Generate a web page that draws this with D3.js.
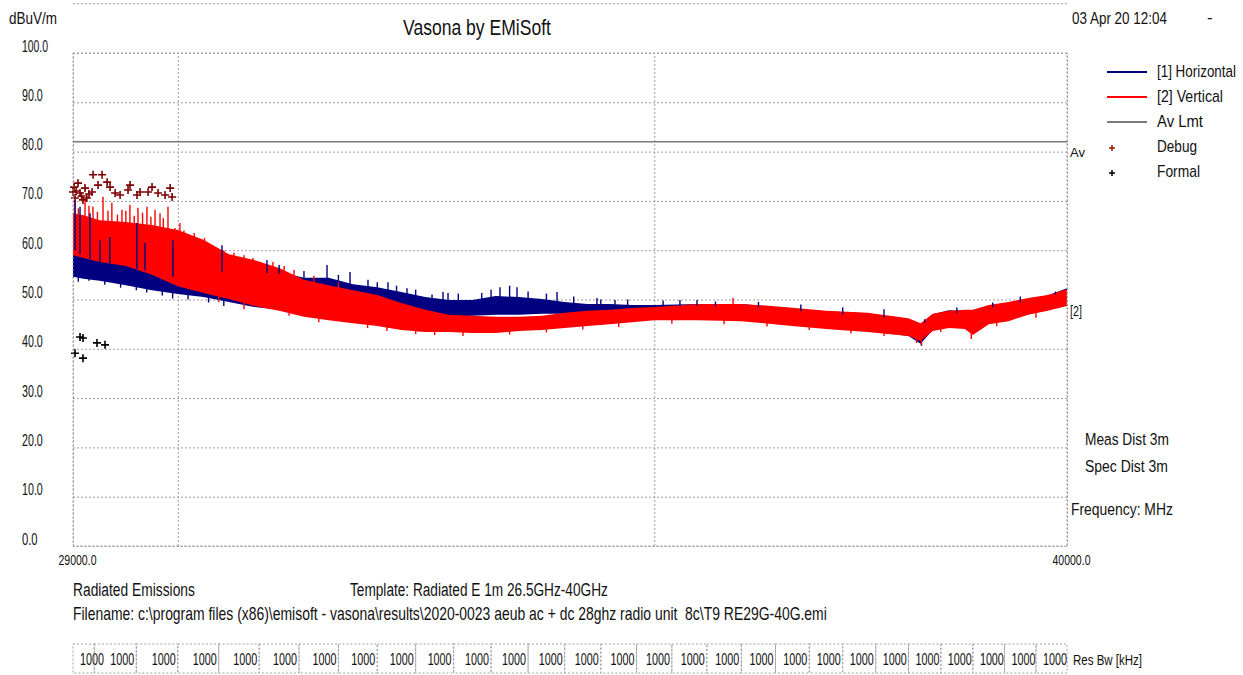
<!DOCTYPE html>
<html>
<head>
<meta charset="utf-8">
<script src="https://cdn.jsdelivr.net/npm/d3@7"></script>
<style>
body { margin: 0; background: #fff; }
text { font-family: "Liberation Sans", Arial, sans-serif; fill: #111; white-space: pre; }
</style>
</head>
<body>
<div id="chart-area"></div>
<script>
// ENVELOPE OF THE TRACES (MHz, dBuV/m)
const freqGrid = [29000, 29100, 29250, 29500, 29750, 30000, 30250, 30500, 30750, 31000, 31250, 31500, 31750,
    32000, 32250, 32500, 32750, 33000, 33250, 33500, 33750, 34000, 34250, 34500, 34750,
    35000, 35500, 36000, 36500, 37000, 37500, 38000, 38150, 38300, 38500, 38700, 38800,
    39000, 39250, 39500, 39750, 40000]
const vertTop = [67.5, 67.1, 66.1, 65.7, 65.1, 64.1, 62.1, 59.2, 58.0, 56.4, 54.0, 52.9, 51.9,
    50.9, 49.3, 47.9, 46.9, 46.7, 46.5, 46.5, 46.7, 47.3, 47.7, 47.9, 48.3,
    48.5, 49.1, 49.1, 48.5, 47.7, 47.3, 46.2, 45.2, 47.1, 47.7, 47.9, 47.9,
    48.9, 49.5, 50.3, 50.9, 52.1]
const vertBottom = [59.0, 58.4, 57.6, 56.8, 55.0, 52.7, 51.3, 50.1, 48.7, 47.7, 46.5, 45.8, 45.2,
    44.6, 43.8, 43.4, 43.4, 43.2, 43.2, 43.6, 43.8, 44.2, 44.6, 45.0, 45.4,
    45.8, 45.8, 45.6, 44.8, 44.0, 43.4, 42.6, 41.6, 43.6, 44.2, 44.0, 42.8,
    45.0, 45.6, 46.9, 47.7, 48.7]
const horzTop = [60.6, 59.0, 58.0, 57.0, 56.0, 54.8, 55.0, 56.4, 56.0, 55.6, 54.4, 54.4, 53.1,
    52.5, 51.5, 50.5, 49.9, 49.9, 50.7, 50.5, 50.1, 49.5, 49.1, 49.1, 48.9,
    48.9, 49.1, 49.1, 48.3, 47.6, 47.2, 46.0, 45.0, 47.0, 47.8, 47.6, 47.7,
    48.7, 49.4, 50.1, 50.8, 52.3]
const horzBottom = [54.6, 54.2, 53.8, 52.9, 51.9, 51.1, 50.5, 49.5, 48.5, 47.9, 47.3, 46.7, 46.2,
    46.2, 46.2, 46.2, 46.5, 46.7, 46.9, 46.9, 47.1, 47.1, 47.3, 47.3, 47.1,
    46.7, 46.2, 45.8, 45.0, 44.2, 43.6, 42.6, 41.0, 43.8, 44.4, 44.2, 43.0,
    45.2, 45.8, 47.0, 47.8, 48.9]

// PEAKS ABOVE THE BANDS
const vertSpikeFreq = [29019, 29050, 29113, 29150, 29188, 29230, 29283, 29330, 29367, 29420, 29463, 29500, 29539,
    29580, 29616, 29660, 29702, 29740, 29780, 29828, 29860, 29905, 29972, 30021, 30060, 30119, 30160, 30216,
    30260, 30314, 30360, 30450, 30550, 30650, 30739, 30820, 30938, 31050, 31150, 31350, 31600, 35903]
const vertSpikeLevel = [70.0, 68.5, 70.2, 69.0, 68.8, 67.8, 70.8, 68.0, 69.6, 67.2, 68.2, 68.0, 69.2,
    67.0, 68.6, 67.6, 68.8, 66.8, 68.2, 67.5, 66.5, 68.8, 64.5, 65.5, 64.0, 62.7, 63.5, 62.0,
    62.5, 61.0, 60.5, 60.0, 59.5, 59.0, 58.4, 57.5, 57.6, 56.8, 56.0, 54.8, 53.5, 50.3]
const horzSpikeFreq = [29019, 29066, 29160, 29254, 29348, 29606, 29683, 29953, 30432, 30878, 31000, 31250, 31484,
    31600, 31719, 31904, 32000, 32111, 32200, 32309, 32400, 32572, 32688, 32741, 32850, 33100, 33200, 33296,
    33400, 33480, 33600, 33800, 33916, 34100, 34357, 34400, 34558, 34700, 35100, 35292, 35487, 35700, 36200,
    36700, 37200, 37700, 38200, 38600, 39050, 39400, 39850]
const horzSpikeLevel = [70.2, 68.8, 67.5, 62.0, 62.7, 65.5, 61.5, 62.0, 61.0, 58.0, 57.0, 55.8, 57.0,
    55.0, 55.6, 54.0, 53.5, 53.5, 52.8, 52.3, 52.0, 51.0, 51.5, 51.3, 51.2, 51.3, 52.0, 52.5,
    52.8, 52.5, 51.6, 51.2, 51.5, 50.6, 50.3, 50.0, 49.9, 50.0, 49.8, 49.9, 49.9, 49.6, 49.5,
    49.0, 48.4, 48.0, 46.0, 48.4, 49.4, 50.6, 51.6]

// DIPS BELOW THE BANDS
const vertDipFreq = [30400, 30650, 31100, 31400, 31900, 32100, 32400, 32600, 32900, 33400, 33800, 34200, 34600,
    35200, 35800, 36300, 36800, 37300, 37700, 38100, 38160, 38400, 38780, 39100, 39600]
const vertDipLevel = [49.5, 48.0, 46.7, 45.4, 44.2, 43.6, 43.0, 42.8, 42.6, 42.9, 43.3, 43.9, 44.4,
    45.1, 45.0, 44.5, 43.8, 43.1, 42.6, 41.2, 40.8, 43.4, 42.0, 44.6, 46.3]
const horzDipFreq = [29050, 29150, 29300, 29450, 29600, 29700, 29850, 29950, 30100, 30300, 30450, 38160]
const horzDipLevel = [53.6, 53.8, 53.0, 52.4, 51.9, 51.4, 50.8, 50.2, 50.0, 49.4, 48.7, 40.6]

// MARKERS
const debugFreq = [29000, 29010, 29019, 29030, 29047, 29066, 29080, 29094, 29113, 29130, 29150, 29179, 29189, 29236,
    29274, 29322, 29350, 29398, 29445, 29521, 29540, 29607, 29636, 29713, 29751, 29809, 29877, 29926, 29945]
const debugLevel = [71.8, 72.8, 70.6, 72.0, 73.6, 71.6, 71.0, 70.2, 72.6, 70.6, 71.4, 71.8, 75.3, 73.2,
    75.3, 73.8, 72.8, 71.6, 71.2, 72.2, 73.2, 71.2, 71.8, 71.8, 72.8, 71.6, 71.2, 72.6, 70.8]
const formalFreq = [29019, 29066, 29094, 29094, 29226, 29302]
const formalLevel = [39.1, 42.4, 42.2, 38.1, 41.2, 40.8]

// LIMIT, AXES, RES BW ROW
const avLimit = 82
const yTicks = [0, 10, 20, 30, 40, 50, 60, 70, 80, 90, 100]
const xTickLabels = [29000, 40000]
const xGrid = [29000, 30000, 35000, 40000]
const resBwEdges = [29000, 29200, 29600, 30000, 30400, 30800, 31200, 31600, 32000, 32400, 32800, 33200, 33600,
    34000, 34400, 34800, 35200, 35600, 36000, 36400, 36800, 37200, 37600, 38000, 38400, 38800, 39200, 39600, 40000]
const resBwLabels = ['1000', '1000', '1000', '1000', '1000', '1000', '1000', '1000', '1000', '1000', '1000', '1000',
    '1000', '1000', '1000', '1000', '1000', '1000', '1000', '1000', '1000', '1000', '1000', '1000', '1000', '1000',
    '1000', '1000']

// SET CHART MARGINS
const margin = { top: 53, right: 176, bottom: 129, left: 73 }
const width = 1243 - margin.left - margin.right
const height = 675 - margin.top - margin.bottom

const GRID = '#a69ca6'
const NAVY = '#000080'
const RED = '#ff0000'

const svg = d3.select('#chart-area')
              .append('svg')
              .attr('width', 1243)
              .attr('height', 675)

const g = svg.append('g')
             .attr('transform', 'translate(' + margin.left + ',' + margin.top + ')')

const x = d3.scaleLog().domain([29000, 40000]).range([0, width])
const y = d3.scaleLinear().domain([0, 100]).range([height, 0])

// SQUEEZE A TEXT NODE TO A GIVEN WIDTH (the print is narrow)
const squeeze = (sel, px, py, w) => {
    sel.attr('x', 0).attr('y', 0).attr('dy', 0)
    const nat = sel.node().getComputedTextLength()
    const s = w ? w / nat : 1
    sel.attr('transform', 'translate(' + px + ',' + py + ') scale(' + s + ',1)')
}

const label = (parent, str, px, py, size, w, anchor) => {
    const t = parent.append('text')
                    .attr('text-anchor', anchor || 'start')
                    .style('font-size', size + 'px')
                    .text(str)
    squeeze(t, px, py, w)
    return t
}

// GRID
g.append('line')
 .attr('x1', 0).attr('x2', width)
 .attr('y1', y(110)).attr('y2', y(110))
 .attr('stroke', GRID).attr('stroke-dasharray', '2,2')

const yGrid = g.append('g').call(d3.axisLeft(y).tickValues(yTicks).tickSize(-width).tickFormat(''))
yGrid.select('.domain').remove()
yGrid.selectAll('line').attr('stroke', GRID).attr('stroke-dasharray', '2,2')

const xGridG = g.append('g')
                .attr('transform', 'translate(0,' + height + ')')
                .call(d3.axisBottom(x).tickValues(xGrid).tickSize(-height).tickFormat(''))
xGridG.select('.domain').remove()
xGridG.selectAll('line').attr('stroke', GRID).attr('stroke-dasharray', '2,2')

// AV LIMIT
g.append('line')
 .attr('x1', 0).attr('x2', width)
 .attr('y1', y(avLimit)).attr('y2', y(avLimit))
 .attr('stroke', '#7a7a7a').attr('stroke-width', 1.6)

// TRACES
const rows = freqGrid.map((f, i) => ({ f, vt: vertTop[i], vb: vertBottom[i], ht: horzTop[i], hb: horzBottom[i] }))

const vertTopAt = d3.scaleLog().domain(freqGrid).range(vertTop)
const vertBotAt = d3.scaleLog().domain(freqGrid).range(vertBottom)
const horzTopAt = d3.scaleLog().domain(freqGrid).range(horzTop)
const horzBotAt = d3.scaleLog().domain(freqGrid).range(horzBottom)

const drawTicks = (cls, freqs, levels, edgeAt, color, inward) => {
    g.selectAll('.' + cls)
     .data(freqs)
     .enter().append('line')
     .attr('class', cls)
     .attr('x1', d => x(d)).attr('x2', d => x(d))
     .attr('y1', (d, i) => y(levels[i]))
     .attr('y2', d => y(edgeAt(d)) + inward)
     .attr('stroke', color).attr('stroke-width', 1.4)
}

g.append('path')
 .datum(rows)
 .attr('fill', NAVY)
 .attr('d', d3.area().x(d => x(d.f)).y0(d => y(d.hb)).y1(d => y(d.ht)))
drawTicks('hdip', horzDipFreq, horzDipLevel, horzBotAt, NAVY, -2)

g.append('path')
 .datum(rows)
 .attr('fill', RED)
 .attr('d', d3.area().x(d => x(d.f)).y0(d => y(d.vb)).y1(d => y(d.vt)))
drawTicks('vdip', vertDipFreq, vertDipLevel, vertBotAt, RED, -2)
drawTicks('vspike', vertSpikeFreq, vertSpikeLevel, vertTopAt, RED, 2)
drawTicks('hspike', horzSpikeFreq, horzSpikeLevel, horzTopAt, NAVY, 2)

// MARKERS
const plus = 'M-4,0H4M0,-4V4'
g.selectAll('.debug')
 .data(debugFreq)
 .enter().append('path')
 .attr('class', 'debug')
 .attr('d', plus)
 .attr('transform', (d, i) => 'translate(' + x(d) + ',' + y(debugLevel[i]) + ')')
 .attr('stroke', '#7f0000').attr('stroke-width', 1.6).attr('fill', 'none')

g.selectAll('.formal')
 .data(formalFreq)
 .enter().append('path')
 .attr('class', 'formal')
 .attr('d', plus)
 .attr('transform', (d, i) => 'translate(' + x(d) + ',' + y(formalLevel[i]) + ')')
 .attr('stroke', '#000').attr('stroke-width', 1.6).attr('fill', 'none')

// FRAME
g.append('rect')
 .attr('width', width).attr('height', height)
 .attr('fill', 'none').attr('stroke', GRID).attr('stroke-dasharray', '2,2')

// Y AXIS LABELS
const yAxisG = g.append('g').call(d3.axisLeft(y).tickValues(yTicks).tickSize(0).tickFormat(d => d.toFixed(1)))
yAxisG.select('.domain').remove()
yAxisG.selectAll('text')
      .attr('text-anchor', 'start')
      .style('font-size', '16px')
      .attr('fill', '#222')
      .each(function (d) { squeeze(d3.select(this), -51, -2, d.toFixed(1).length * 5.2) })

// X AXIS LABELS
const xAxisG = g.append('g')
                .attr('transform', 'translate(0,' + height + ')')
                .call(d3.axisBottom(x).tickValues(xTickLabels).tickSize(0).tickFormat(d => d.toFixed(1)))
xAxisG.select('.domain').remove()
xAxisG.selectAll('text')
      .style('font-size', '14px')
      .attr('fill', '#222')
      .each(function () { squeeze(d3.select(this), 4, 19, 38) })

// TITLES AND NOTES
label(svg, 'dBuV/m', 9, 24, 16, 48)
label(svg, 'Vasona by EMiSoft', 403, 35, 22, 148)
label(svg, '03 Apr 20 12:04', 1072, 24, 17, 95)
label(svg, '-', 1207, 23, 17)
label(svg, 'Av', 1070, 157, 13, 15)
label(svg, '[2]', 1070, 316, 14, 12)
label(svg, 'Meas Dist 3m', 1085, 445, 17, 84)
label(svg, 'Spec Dist 3m', 1085, 472, 17, 83)
label(svg, 'Frequency: MHz', 1071, 515, 17, 102)
label(svg, 'Radiated Emissions', 73, 596, 19, 122)
label(svg, 'Template: Radiated E 1m 26.5GHz-40GHz', 350, 596, 19, 258)
label(svg, 'Filename: c:\\program files (x86)\\emisoft - vasona\\results\\2020-0023 aeub ac + dc 28ghz radio unit  8c\\T9 RE29G-40G.emi',
      73, 620, 19, 754)

// LEGEND
const legendNames = ['[1] Horizontal', '[2] Vertical', 'Av Lmt', 'Debug', 'Formal']
const legendWidths = [79, 66, 46, 40, 43]
const legend = svg.append('g').attr('transform', 'translate(1107,72)')
legendNames.forEach((name, i) => {
    const ly = i * 25
    if (i < 3) {
        legend.append('line')
              .attr('x1', 0).attr('x2', 40).attr('y1', ly).attr('y2', ly)
              .attr('stroke', [NAVY, RED, '#7a7a7a'][i]).attr('stroke-width', 2)
    } else {
        legend.append('path')
              .attr('d', 'M-3,0H3M0,-3V3')
              .attr('transform', 'translate(5,' + (ly + 1) + ')')
              .attr('stroke', i === 3 ? '#a01000' : '#000').attr('stroke-width', 1.5)
    }
    label(legend, name, 50, ly + 5, 17, legendWidths[i])
})

// RES BW ROW
const resRow = svg.append('g').attr('transform', 'translate(' + margin.left + ',644)')
resBwLabels.forEach((txt, i) => {
    const x0 = x(resBwEdges[i])
    const x1 = x(resBwEdges[i + 1])
    resRow.append('rect')
          .attr('x', x0).attr('y', 0)
          .attr('width', x1 - x0).attr('height', 29)
          .attr('fill', 'none').attr('stroke', GRID).attr('stroke-dasharray', '2,2')
    label(resRow, txt, Math.max(x1 - 2, x0 + 31), 21, 16, 24, 'end')
})
label(svg, 'Res Bw [kHz]', 1073, 665, 15, 69)
</script>
</body>
</html>
